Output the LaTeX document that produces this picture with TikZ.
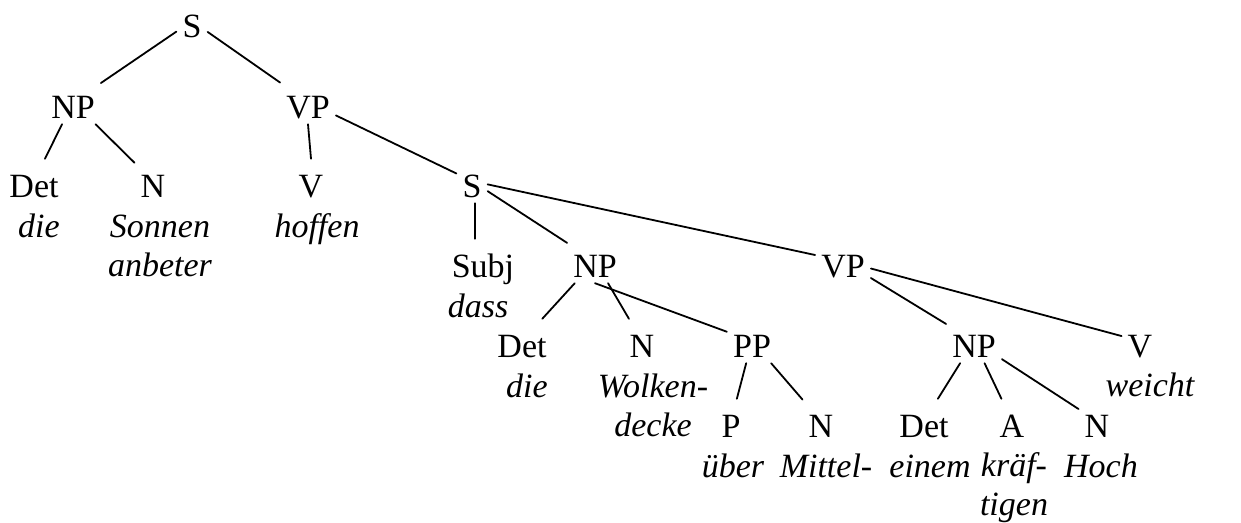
\documentclass[tikz,border=0pt]{standalone}
\usepackage{fontspec}
\setmainfont{Liberation Serif}
\usepackage{tikz}

\begin{document}
\begin{tikzpicture}[line cap=round,line join=round,x=1pt,y=-1pt,
        every node/.style={font=\fontsize{34}{40}\selectfont},
        cat/.style={anchor=base,text height=32pt,text depth=0pt,inner xsep=6pt,inner ysep=6pt},
        word/.style={anchor=base,align=center,inner sep=0pt,font=\fontsize{34}{39}\selectfont\itshape},
        edge/.style={line width=1.8pt}]
        \useasboundingbox (0,0) rectangle (1241,522);
        \node[cat] (s1) at (192,37) {S};
        \node[cat] (np1) at (73,118) {NP};
        \node[cat] (vp1) at (308,118) {VP};
        \node[cat] (det1) at (34,197) {Det};
        \node[cat] (n1) at (153,197) {N};
        \node[cat] (v1) at (311,197) {V};
        \node[cat] (s2) at (472,197) {S};
        \node[word] (w-die1) at (39,237) {die};
        \node[word] (w-sonnen) at (160,276) {Sonnen\\anbeter};
        \node[word] (w-hoffen) at (317,237) {hoffen};
        \node[cat] (subj) at (483,277) {Subj};
        \node[cat] (np2) at (595,277) {NP};
        \node[cat] (vp2) at (843,277) {VP};
        \node[word] (w-dass) at (478,317) {dass};
        \node[cat] (det2) at (522,357) {Det};
        \node[cat] (n2) at (642,357) {N};
        \node[cat] (pp) at (752,357) {PP};
        \node[cat] (np3) at (974,357) {NP};
        \node[cat] (v3) at (1140,357) {V};
        \node[word] (w-die2) at (527,397) {die};
        \node[word] (w-wolken) at (653,436) {Wolken-\\decke};
        \node[word] (w-weicht) at (1150,396) {weicht};
        \node[cat] (p) at (731,437) {P};
        \node[cat] (n3) at (821,437) {N};
        \node[cat] (det3) at (924,437) {Det};
        \node[cat] (a) at (1012,437) {A};
        \node[cat] (n4) at (1097,437) {N};
        \node[word] (w-ueber) at (733,477) {über};
        \node[word] (w-mittel) at (826,477) {Mittel-};
        \node[word] (w-einem) at (930,477) {einem};
        \node[word] (w-kraef) at (1014,515) {kräf-\\tigen};
        \node[word] (w-hoch) at (1101,477) {Hoch};
        \draw[edge] (s1) -- (np1);
        \draw[edge] (s1) -- (vp1);
        \draw[edge] (np1) -- (det1);
        \draw[edge] (np1) -- (n1);
        \draw[edge] (vp1.south) -- (v1.north);
        \draw[edge] (vp1) -- (s2);
        \draw[edge] ([xshift=3pt]s2.south) -- ([xshift=3pt]s2.south |- subj.north);
        \draw[edge] (s2) -- (np2);
        \draw[edge] (s2) -- (vp2);
        \draw[edge] (np2) -- (det2);
        \draw[edge] (np2) -- (n2);
        \draw[edge] (np2.south) -- (pp);
        \draw[edge] (pp) -- (p);
        \draw[edge] (pp) -- (n3);
        \draw[edge] (vp2) -- (np3);
        \draw[edge] (vp2) -- (v3);
        \draw[edge] (np3) -- (det3);
        \draw[edge] (np3) -- (a);
        \draw[edge] (np3) -- (n4);
\end{tikzpicture}
\end{document}
